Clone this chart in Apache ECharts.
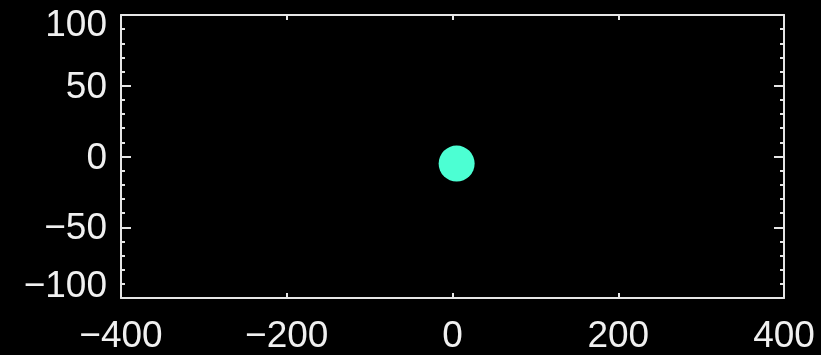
<!DOCTYPE html>
<html>
<head>
<meta charset="utf-8">
<script src="https://cdn.jsdelivr.net/npm/echarts@6/dist/echarts.min.js"></script>
<style>
  html, body { margin: 0; padding: 0; background: #000; }
  #chart { width: 821px; height: 355px; }
</style>
</head>
<body>
<div id="chart"></div>
<script>
// Single plotted point
const pointX = [5];
const pointY = [-5];

// Axis ranges and tick steps
const xRange = [-400, 400];
const xStep = 200;
const yRange = [-100, 100];
const yStep = 50;

const lineColor = '#e6e6e6';
const labelFont = { color: '#f0f0f0', fontFamily: 'Liberation Sans', fontSize: 37 };

function fmtNum(v) {
  return v < 0 ? '\u2212' + Math.abs(v) : String(v);
}

// Nudge the end labels of the y axis inward, as the plotting package does
function yLabel(v) {
  if (v === yRange[1]) return '{top|' + fmtNum(v) + '}';
  if (v === yRange[0]) return '{bot|' + fmtNum(v) + '}';
  return '{mid|' + fmtNum(v) + '}';
}

const chart = echarts.init(document.getElementById('chart'), null, { renderer: 'canvas' });

const axisCommon = {
  axisLine: { show: true, onZero: false, lineStyle: { color: lineColor, width: 2 } },
  splitLine: { show: false }
};

chart.setOption({
  backgroundColor: '#000',
  animation: false,
  grid: { left: 121, right: 37, top: 15, bottom: 55, containLabel: false },
  xAxis: [
    Object.assign({}, axisCommon, {
      type: 'value', position: 'bottom', min: xRange[0], max: xRange[1], interval: xStep,
      axisTick: { show: true, inside: true, length: 5, lineStyle: { color: lineColor, width: 2 } },
      axisLabel: Object.assign({ margin: 20, formatter: fmtNum, showMinLabel: true, showMaxLabel: true }, labelFont)
    }),
    Object.assign({}, axisCommon, {
      type: 'value', position: 'top', min: xRange[0], max: xRange[1], interval: xStep,
      axisTick: { show: true, inside: true, length: 5, lineStyle: { color: lineColor, width: 2 } },
      axisLabel: { show: false }
    })
  ],
  yAxis: [
    Object.assign({}, axisCommon, {
      type: 'value', position: 'left', min: yRange[0], max: yRange[1], interval: yStep,
      axisTick: { show: true, inside: true, length: 10, lineStyle: { color: lineColor, width: 2 } },
      minorTick: { show: true, splitNumber: 5, length: 4, lineStyle: { color: lineColor, width: 2 } },
      axisLabel: Object.assign({
        margin: 14, formatter: yLabel, showMinLabel: true, showMaxLabel: true,
        rich: {
          top: Object.assign({ padding: [22, 0, 0, 0] }, labelFont),
          mid: Object.assign({ padding: [4, 0, 0, 0] }, labelFont),
          bot: Object.assign({ padding: [0, 0, 22, 0] }, labelFont)
        }
      }, labelFont)
    }),
    Object.assign({}, axisCommon, {
      type: 'value', position: 'right', min: yRange[0], max: yRange[1], interval: yStep,
      axisTick: { show: true, inside: true, length: 10, lineStyle: { color: lineColor, width: 2 } },
      minorTick: { show: true, splitNumber: 5, length: 4, lineStyle: { color: lineColor, width: 2 } },
      axisLabel: { show: false }
    })
  ],
  series: [{
    type: 'scatter',
    xAxisIndex: 0,
    yAxisIndex: 0,
    data: pointX.map((x, i) => [x, pointY[i]]),
    symbol: 'circle',
    symbolSize: 36,
    itemStyle: { color: '#4cffd3', opacity: 1 }
  }]
});
</script>
</body>
</html>
